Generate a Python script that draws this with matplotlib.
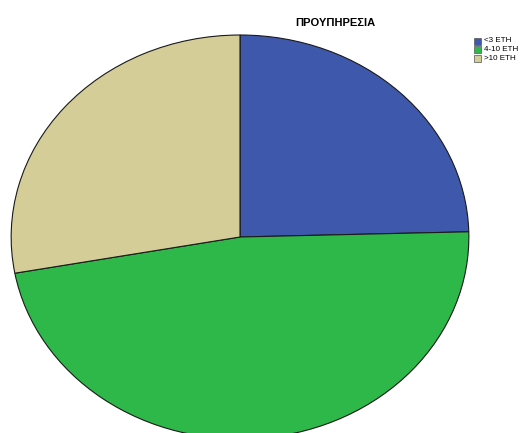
import matplotlib
matplotlib.use("Agg")
import matplotlib.pyplot as plt
from matplotlib.patches import Rectangle

# Years of service (ΠΡΟΥΠΗΡΕΣΙΑ), respondent counts per group
categories = ["<3 ΕΤΗ", "4-10 ΕΤΗ", ">10 ΕΤΗ"]
counts = [15, 29, 17]
colors = ["#3E58AC", "#2EB84A", "#D4CD98"]

plt.rcParams["font.family"] = ["Liberation Sans", "DejaVu Sans"]

W, H = 531, 433
fig = plt.figure(figsize=(W / 100, H / 100), dpi=100)

# Elliptical pie: axes stretched horizontally, aspect left free
ax = fig.add_axes([10 / W, (H - 440) / H, 460 / W, 406 / H])
ax.pie(counts, colors=colors, startangle=90, counterclock=False, radius=1,
       wedgeprops=dict(edgecolor="#1a1a1a", linewidth=0.8))
ax.set_aspect("auto")
ax.set_xlim(-1.005, 1.005)
ax.set_ylim(-1.005, 1.005)
ax.axis("off")
for p in ax.patches:
    p.set_clip_on(False)

fig.text(335 / W, 1 - 23 / H, "ΠΡΟΥΠΗΡΕΣΙΑ", ha="center", va="center",
         fontsize=8, fontweight="bold")

# Legend swatches and labels
for i, (lab, col) in enumerate(zip(categories, colors)):
    yc = 41 + i * 8.5
    fig.patches.append(Rectangle((474 / W, 1 - (yc + 3.5) / H), 7 / W, 7 / H,
                                 transform=fig.transFigure, facecolor=col,
                                 edgecolor="#555555", linewidth=0.5))
    fig.text(484 / W, 1 - yc / H, lab, ha="left", va="center", fontsize=5.8)

fig.savefig("out.png", dpi=100, facecolor="white")
